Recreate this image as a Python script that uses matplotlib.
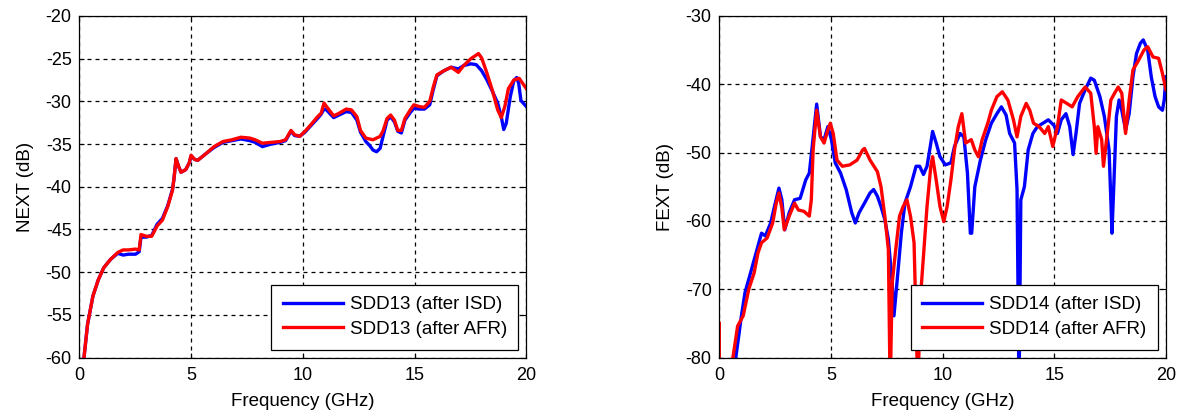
import matplotlib
matplotlib.use("Agg")
import matplotlib.pyplot as plt

plt.rcParams['font.family'] = ['Liberation Sans', 'DejaVu Sans']

# ---- NEXT (SDD13) ----
next_isd_f = [0.21, 0.37, 0.61, 0.85, 1.09, 1.40, 1.72, 1.96, 2.20, 2.52, 2.68, 2.76,
              3.00, 3.24, 3.48, 3.72, 3.96, 4.17, 4.23, 4.33, 4.44, 4.55, 4.76, 4.92,
              5.00, 5.16, 5.30, 5.63, 6.03, 6.43, 6.83, 7.23, 7.63, 7.87, 8.19, 8.59,
              8.99, 9.23, 9.47, 9.63, 9.86, 10.10, 10.34, 10.66, 10.82, 10.95, 11.06,
              11.38, 11.62, 11.94, 12.18, 12.42, 12.58, 12.82, 13.00, 13.14, 13.30,
              13.46, 13.60, 13.77, 13.93, 14.10, 14.25, 14.41, 14.57, 14.81, 14.97,
              15.20, 15.44, 15.68, 15.84, 16.00, 16.32, 16.64, 16.96, 17.20, 17.52,
              17.76, 18.00, 18.24, 18.48, 18.72, 18.88, 18.99, 19.10, 19.28, 19.44,
              19.57, 19.66, 19.76, 20.00]
next_isd = [-60.0, -56.1, -52.8, -50.9, -49.5, -48.5, -47.8, -48.0, -47.9, -47.9, -47.6, -45.9,
            -45.9, -45.7, -44.4, -43.7, -42.2, -40.3, -39.2, -36.7, -37.6, -38.3, -38.0, -37.2,
            -36.4, -36.8, -36.9, -36.2, -35.4, -34.8, -34.6, -34.4, -34.6, -34.8, -35.3, -35.0,
            -34.8, -34.6, -33.5, -34.0, -34.1, -33.6, -32.9, -32.0, -31.5, -30.9, -31.0,
            -31.9, -31.6, -31.2, -31.3, -32.2, -33.6, -34.7, -35.2, -35.7, -35.9,
            -35.5, -34.0, -32.2, -31.8, -32.4, -33.5, -33.7, -32.2, -31.3, -30.8,
            -30.9, -30.9, -30.4, -28.6, -27.0, -26.4, -26.0, -26.2, -25.8, -25.6,
            -25.7, -26.4, -27.5, -28.8, -30.2, -31.8, -33.3, -32.6, -29.5, -27.6,
            -27.2, -27.9, -29.9, -30.6]

next_afr_f = [0.21, 0.37, 0.61, 0.85, 1.09, 1.40, 1.72, 1.96, 2.20, 2.52, 2.68, 2.76,
              3.00, 3.24, 3.48, 3.72, 3.96, 4.17, 4.23, 4.33, 4.44, 4.55, 4.76, 4.92,
              5.00, 5.16, 5.30, 5.63, 6.03, 6.43, 6.83, 7.23, 7.63, 7.87, 8.19, 8.59,
              8.99, 9.23, 9.47, 9.63, 9.86, 10.10, 10.34, 10.66, 10.82, 10.95, 11.06,
              11.38, 11.62, 11.94, 12.18, 12.42, 12.58, 12.82, 13.14, 13.46, 13.60,
              13.77, 13.93, 14.10, 14.25, 14.41, 14.57, 14.81, 14.97, 15.20, 15.44,
              15.68, 15.84, 16.00, 16.32, 16.64, 16.96, 17.20, 17.52, 17.86, 18.00,
              18.24, 18.48, 18.72, 18.88, 19.04, 19.20, 19.44, 19.68, 19.84, 20.00]
next_afr = [-60.0, -56.1, -52.8, -50.9, -49.5, -48.5, -47.7, -47.4, -47.4, -47.3, -47.4, -45.6,
            -45.8, -45.8, -44.6, -43.9, -42.3, -40.4, -39.2, -36.7, -37.6, -38.3, -38.0, -37.2,
            -36.3, -36.8, -36.9, -36.2, -35.3, -34.7, -34.5, -34.2, -34.3, -34.5, -34.9, -34.8,
            -34.7, -34.5, -33.4, -33.9, -34.1, -33.5, -32.8, -31.8, -31.4, -30.2, -30.6,
            -31.7, -31.4, -30.9, -31.0, -31.8, -33.4, -34.3, -34.5, -34.1, -33.4,
            -32.0, -31.6, -32.2, -33.4, -33.4, -32.0, -31.0, -30.4, -30.6, -30.7,
            -30.0, -28.3, -26.9, -26.4, -26.0, -26.6, -25.8, -25.0, -24.4, -24.9,
            -26.7, -28.7, -31.0, -31.9, -30.6, -28.5, -27.5, -27.3, -27.9, -28.5]

# ---- FEXT (SDD14) ----
fext_isd_f = [0.74, 0.99, 1.15, 1.40, 1.56, 1.73, 1.89, 2.06, 2.30, 2.47, 2.67, 2.80,
              2.93, 3.13, 3.37, 3.62, 3.87, 4.03, 4.16, 4.36, 4.53, 4.69, 4.86, 5.02,
              5.19, 5.43, 5.68, 5.93, 6.09, 6.26, 6.50, 6.75, 6.91, 7.08, 7.24, 7.41,
              7.57, 7.74, 7.82, 7.98, 8.15, 8.31, 8.56, 8.81, 8.97, 9.14, 9.30, 9.47,
              9.55, 9.71, 9.88, 10.12, 10.37, 10.53, 10.78, 10.95, 11.11, 11.24, 11.30,
              11.44, 11.69, 11.93, 12.18, 12.43, 12.63, 12.84, 13.00, 13.22, 13.33,
              13.42, 13.50, 13.66, 13.83, 14.04, 14.24, 14.49, 14.73, 14.98, 15.14,
              15.31, 15.52, 15.69, 15.84, 15.97, 16.13, 16.38, 16.63, 16.79, 17.04,
              17.24, 17.45, 17.53, 17.58, 17.65, 17.78, 17.90, 18.02, 18.19, 18.35,
              18.52, 18.68, 18.85, 18.98, 19.18, 19.34, 19.51, 19.67, 19.84, 19.92,
              20.00]
fext_isd = [-80.0, -73.9, -70.5, -67.6, -65.7, -63.7, -61.8, -62.2, -60.3, -57.9, -55.2, -56.9,
            -61.3, -58.8, -56.9, -56.7, -54.0, -53.0, -49.1, -42.9, -47.7, -48.1, -46.2, -48.1,
            -51.5, -53.0, -55.4, -58.8, -60.3, -58.8, -57.4, -55.9, -55.4, -56.4, -57.9, -59.8,
            -62.7, -69.1, -73.9, -68.1, -61.8, -57.4, -55.0, -52.0, -52.0, -53.2, -52.0, -48.6,
            -46.9, -48.6, -50.6, -51.8, -51.5, -49.1, -47.2, -47.7, -53.0, -61.8, -61.8,
            -55.0, -51.1, -48.1, -45.7, -44.3, -43.3, -44.5, -47.2, -48.6, -55.4,
            -85.0, -56.9, -55.0, -49.6, -47.2, -46.2, -45.7, -45.2, -46.0, -47.2,
            -45.2, -44.3, -46.2, -50.3, -47.2, -42.8, -40.8, -39.1, -39.4, -41.8,
            -44.7, -49.6, -56.9, -61.8, -55.9, -44.7, -42.3, -43.8, -46.7, -44.3,
            -38.9, -35.5, -34.0, -33.5, -35.0, -38.9, -41.8, -43.3, -43.8, -42.3,
            -38.9]

fext_afr_f = [0.00, 0.00, 0.61, 0.82, 1.07, 1.32, 1.56, 1.73, 1.89, 2.14, 2.39, 2.55,
              2.67, 2.80, 2.91, 3.13, 3.37, 3.54, 3.79, 4.03, 4.12, 4.20, 4.36, 4.53,
              4.69, 4.86, 4.97, 5.10, 5.27, 5.51, 5.84, 6.17, 6.42, 6.50, 6.75, 7.08,
              7.24, 7.41, 7.57, 7.65, 7.74, 7.90, 8.07, 8.23, 8.40, 8.56, 8.72, 8.89,
              9.00, 9.14, 9.30, 9.47, 9.55, 9.71, 9.88, 10.05, 10.20, 10.37, 10.53,
              10.70, 10.86, 11.03, 11.28, 11.44, 11.60, 11.77, 12.02, 12.18, 12.43,
              12.67, 12.92, 13.17, 13.33, 13.50, 13.74, 13.90, 14.07, 14.32, 14.57,
              14.73, 14.93, 15.14, 15.31, 15.56, 15.80, 16.05, 16.38, 16.63, 16.79,
              16.87, 16.95, 17.12, 17.20, 17.37, 17.53, 17.70, 17.86, 18.02, 18.19,
              18.35, 18.52, 18.77, 19.01, 19.18, 19.42, 19.67, 19.84, 20.00]
fext_afr = [-75.0, -85.0, -80.0, -75.4, -73.9, -70.0, -67.6, -64.7, -63.2, -62.5, -60.3, -57.4,
            -55.9, -58.1, -61.3, -59.3, -57.4, -58.4, -58.6, -59.3, -56.9, -49.6, -43.8, -47.7,
            -48.6, -46.7, -45.7, -47.2, -51.1, -52.0, -51.8, -51.1, -49.6, -49.4, -51.1, -52.8,
            -55.0, -59.3, -64.2, -85.0, -69.1, -64.2, -59.3, -57.9, -56.9, -59.3, -63.2, -85.0,
            -71.5, -65.2, -57.9, -52.0, -50.6, -54.0, -57.9, -60.1, -57.9, -54.0, -49.6,
            -46.2, -44.3, -48.6, -48.1, -49.6, -50.6, -48.1, -45.7, -43.8, -41.8,
            -41.1, -42.3, -45.2, -47.7, -44.7, -42.8, -43.8, -45.7, -46.2, -47.2,
            -46.2, -49.1, -46.2, -42.3, -42.8, -43.3, -41.8, -40.4, -41.3, -46.2,
            -50.1, -46.2, -48.1, -52.0, -47.2, -42.3, -41.3, -40.4, -41.3, -47.2,
            -42.3, -37.9, -36.5, -35.0, -34.5, -36.0, -36.2, -38.4, -40.8]

x_ticks = [0, 5, 10, 15, 20]
next_yticks = [-60, -55, -50, -45, -40, -35, -30, -25, -20]
fext_yticks = [-80, -70, -60, -50, -40, -30]

W, H = 1177, 412
fig = plt.figure(figsize=(W / 100, H / 100), dpi=100)

ax1 = fig.add_axes([79.3 / W, (H - 357.5) / H, 447 / W, 341.5 / H])
ax2 = fig.add_axes([719.3 / W, (H - 357.5) / H, 446.7 / W, 341.5 / H])

panels = [
    (ax1, next_isd_f, next_isd, next_afr_f, next_afr, next_yticks, 'NEXT (dB)',
     'SDD13 (after ISD)', 'SDD13 (after AFR)'),
    (ax2, fext_isd_f, fext_isd, fext_afr_f, fext_afr, fext_yticks, 'FEXT (dB)',
     'SDD14 (after ISD)', 'SDD14 (after AFR)'),
]

for ax, fi, vi, fa, va, yt, ylab, lab_i, lab_a in panels:
    ax.plot(fi, vi, color=(0, 0, 1), lw=2.4, label=lab_i)
    ax.plot(fa, va, color=(1, 0, 0), lw=2.4, label=lab_a)
    ax.set_xlim(0, 20)
    ax.set_ylim(yt[0], yt[-1])
    ax.set_xticks(x_ticks)
    ax.set_yticks(yt)
    ax.set_xticklabels([str(t) for t in x_ticks])
    ax.set_yticklabels([str(t) for t in yt])
    ax.grid(True, color='black', lw=0.9, linestyle=(0, (3.2, 3.2)))
    ax.set_axisbelow(True)
    ax.tick_params(direction='in', length=3.8, width=0.8, top=True, right=True,
                   labelsize=13, colors='black')
    ax.tick_params(axis='x', pad=7)
    ax.tick_params(axis='y', pad=5.5)
    for s in ax.spines.values():
        s.set_linewidth(0.9)
        s.set_color('black')
    ax.set_xlabel('Frequency (GHz)', fontsize=13.5)
    ax.set_ylabel(ylab, fontsize=13.5)
    ax.xaxis.set_label_coords(0.5, -0.105)
    ax.yaxis.set_label_coords(-0.101, 0.5)
    leg = ax.legend(loc='lower right', fontsize=13.5, handlelength=3.2,
                    handletextpad=0.36, borderpad=0.62, labelspacing=0.4,
                    borderaxespad=0.42, fancybox=False, framealpha=1,
                    edgecolor='black')
    leg.get_frame().set_linewidth(0.9)

fig.savefig('out.png', dpi=100)
